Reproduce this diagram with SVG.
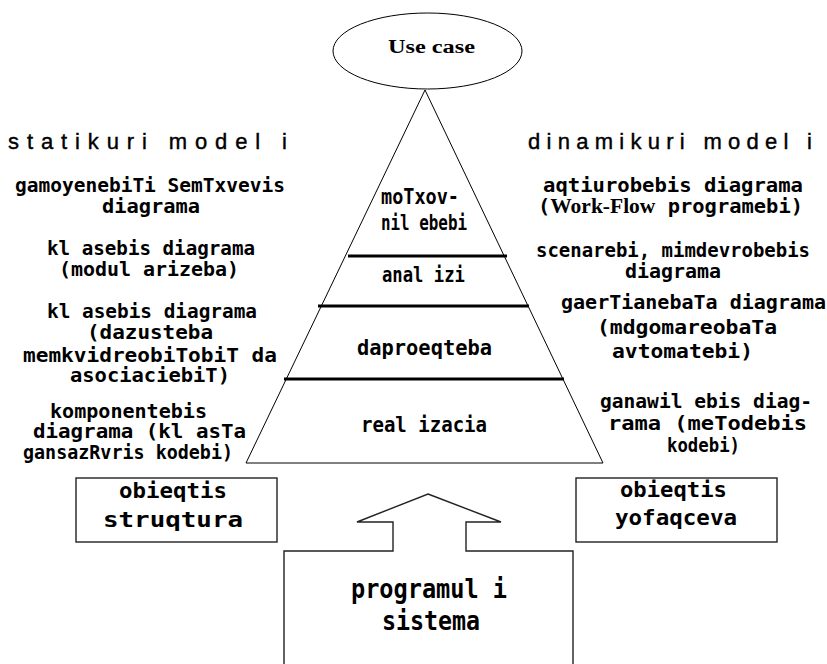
<svg xmlns="http://www.w3.org/2000/svg" width="827" height="664" viewBox="0 0 827 664">
<style>
.bg{fill:#fff}
.shape{fill:#fff;stroke:#000;stroke-width:1}
.box{fill:#fff;stroke:#222;stroke-width:1.4}
.div{stroke:#000;stroke-width:3}
.t{font-family:"DejaVu Sans Mono","Liberation Mono",monospace;font-weight:bold;font-size:19px;fill:#000}
.p{font-family:"DejaVu Sans Mono","Liberation Mono",monospace;font-weight:bold;font-size:21px;fill:#000}
.b{font-family:"DejaVu Sans Mono","Liberation Mono",monospace;font-weight:bold;font-size:21px;fill:#000}
.big{font-family:"DejaVu Sans Mono","Liberation Mono",monospace;font-weight:bold;font-size:26px;fill:#000}
.h{font-family:"Liberation Sans",Arial,sans-serif;font-size:22px;fill:#000;stroke:#000;stroke-width:0.4}
.serif{font-family:"Liberation Serif","Times New Roman",serif;font-weight:bold}
</style>
<rect class="bg" x="0" y="0" width="827" height="664"/>

<g id="use-case">
<ellipse class="shape" cx="427.5" cy="51" rx="94.5" ry="38"/>
<text class="serif" font-size="18" x="388" y="53" textLength="87" lengthAdjust="spacingAndGlyphs">Use case</text>
</g>

<g id="pyramid">
<polygon class="shape" points="425,90 603,463 246,463"/>
<line class="div" x1="348" y1="256" x2="507" y2="256"/>
<line class="div" x1="318" y1="306" x2="529" y2="306"/>
<line class="div" x1="284" y1="379" x2="564" y2="379"/>
</g>

<g id="requirements">
<text class="p" x="381" y="204" textLength="78" lengthAdjust="spacingAndGlyphs">moTxov-</text>
<text class="p" x="381" y="230" textLength="86" lengthAdjust="spacingAndGlyphs">nil ebebi</text>
</g>
<g id="analysis">
<text class="p" x="382" y="282" textLength="83" lengthAdjust="spacingAndGlyphs">anal izi</text>
</g>
<g id="design">
<text class="p" x="357" y="355" textLength="135" lengthAdjust="spacingAndGlyphs">daproeqteba</text>
</g>
<g id="implementation">
<text class="p" x="361" y="432" textLength="126" lengthAdjust="spacingAndGlyphs">real izacia</text>
</g>

<g id="static-model">
<text class="h" x="8" y="149" textLength="279" lengthAdjust="spacing">statikuri model i</text>
</g>
<g id="use-case-diagram">
<text class="t" x="15" y="192" textLength="270" lengthAdjust="spacingAndGlyphs">gamoyenebiTi SemTxvevis</text>
<text class="t" x="102" y="213" textLength="98" lengthAdjust="spacingAndGlyphs">diagrama</text>
</g>
<g id="class-diagram-1">
<text class="t" x="47" y="255" textLength="208" lengthAdjust="spacingAndGlyphs">kl asebis diagrama</text>
<text class="t" x="59" y="276" textLength="180" lengthAdjust="spacingAndGlyphs">(modul arizeba)</text>
</g>
<g id="class-diagram-2">
<text class="t" x="47" y="318" textLength="210" lengthAdjust="spacingAndGlyphs">kl asebis diagrama</text>
<text class="t" x="87" y="339" textLength="126" lengthAdjust="spacingAndGlyphs">(dazusteba</text>
<text class="t" x="23" y="362" textLength="254" lengthAdjust="spacingAndGlyphs">memkvidreobiTobiT da</text>
<text class="t" x="70" y="382" textLength="160" lengthAdjust="spacingAndGlyphs">asociaciebiT)</text>
</g>
<g id="component-diagram">
<text class="t" x="50" y="418" textLength="157" lengthAdjust="spacingAndGlyphs">komponentebis</text>
<text class="t" x="33" y="438" textLength="213" lengthAdjust="spacingAndGlyphs">diagrama (kl asTa</text>
<text class="t" x="23" y="459" textLength="210" lengthAdjust="spacingAndGlyphs">gansazRvris kodebi)</text>
</g>

<g id="dynamic-model">
<text class="h" x="528" y="149" textLength="284" lengthAdjust="spacing">dinamikuri model i</text>
</g>
<g id="activity-diagram">
<text class="t" x="543" y="192" textLength="260" lengthAdjust="spacingAndGlyphs">aqtiurobebis diagrama</text>
<text class="t" x="538" y="213" textLength="265" lengthAdjust="spacingAndGlyphs">(<tspan class="serif" font-size="20">Work-Flow</tspan> programebi)</text>
</g>
<g id="sequence-diagram">
<text class="t" x="536" y="257" textLength="274" lengthAdjust="spacingAndGlyphs">scenarebi, mimdevrobebis</text>
<text class="t" x="625" y="278" textLength="96" lengthAdjust="spacingAndGlyphs">diagrama</text>
</g>
<g id="state-diagram">
<text class="t" x="561" y="309" textLength="265" lengthAdjust="spacingAndGlyphs">gaerTianebaTa diagrama</text>
<text class="t" x="597" y="334" textLength="180" lengthAdjust="spacingAndGlyphs">(mdgomareobaTa</text>
<text class="t" x="612" y="358" textLength="141" lengthAdjust="spacingAndGlyphs">avtomatebi)</text>
</g>
<g id="deployment-diagram">
<text class="t" x="600" y="408" textLength="212" lengthAdjust="spacingAndGlyphs">ganawil ebis diag-</text>
<text class="t" x="608" y="430" textLength="199" lengthAdjust="spacingAndGlyphs">rama (meTodebis</text>
<text class="t" x="667" y="452" textLength="73" lengthAdjust="spacingAndGlyphs">kodebi)</text>
</g>

<g id="object-structure">
<rect class="box" x="76" y="478" width="201" height="64"/>
<text class="b" x="119" y="498" textLength="108" lengthAdjust="spacingAndGlyphs">obieqtis</text>
<text class="b" x="103" y="527" textLength="140" lengthAdjust="spacingAndGlyphs">struqtura</text>
</g>
<g id="object-behaviour">
<rect class="box" x="576" y="478" width="201" height="64"/>
<text class="b" x="620" y="497" textLength="107" lengthAdjust="spacingAndGlyphs">obieqtis</text>
<text class="b" x="615" y="525" textLength="122" lengthAdjust="spacingAndGlyphs">yofaqceva</text>
</g>
<g id="program-system">
<polygon class="box" points="428,494 501,522 466,522 466,551 573,551 573,670 284,670 284,551 393,551 393,522 357,522"/>
<text class="big" x="351" y="598" textLength="156" lengthAdjust="spacingAndGlyphs">programul i</text>
<text class="big" x="382" y="630" textLength="98" lengthAdjust="spacingAndGlyphs">sistema</text>
</g>

<g id="connectors"></g>
</svg>
